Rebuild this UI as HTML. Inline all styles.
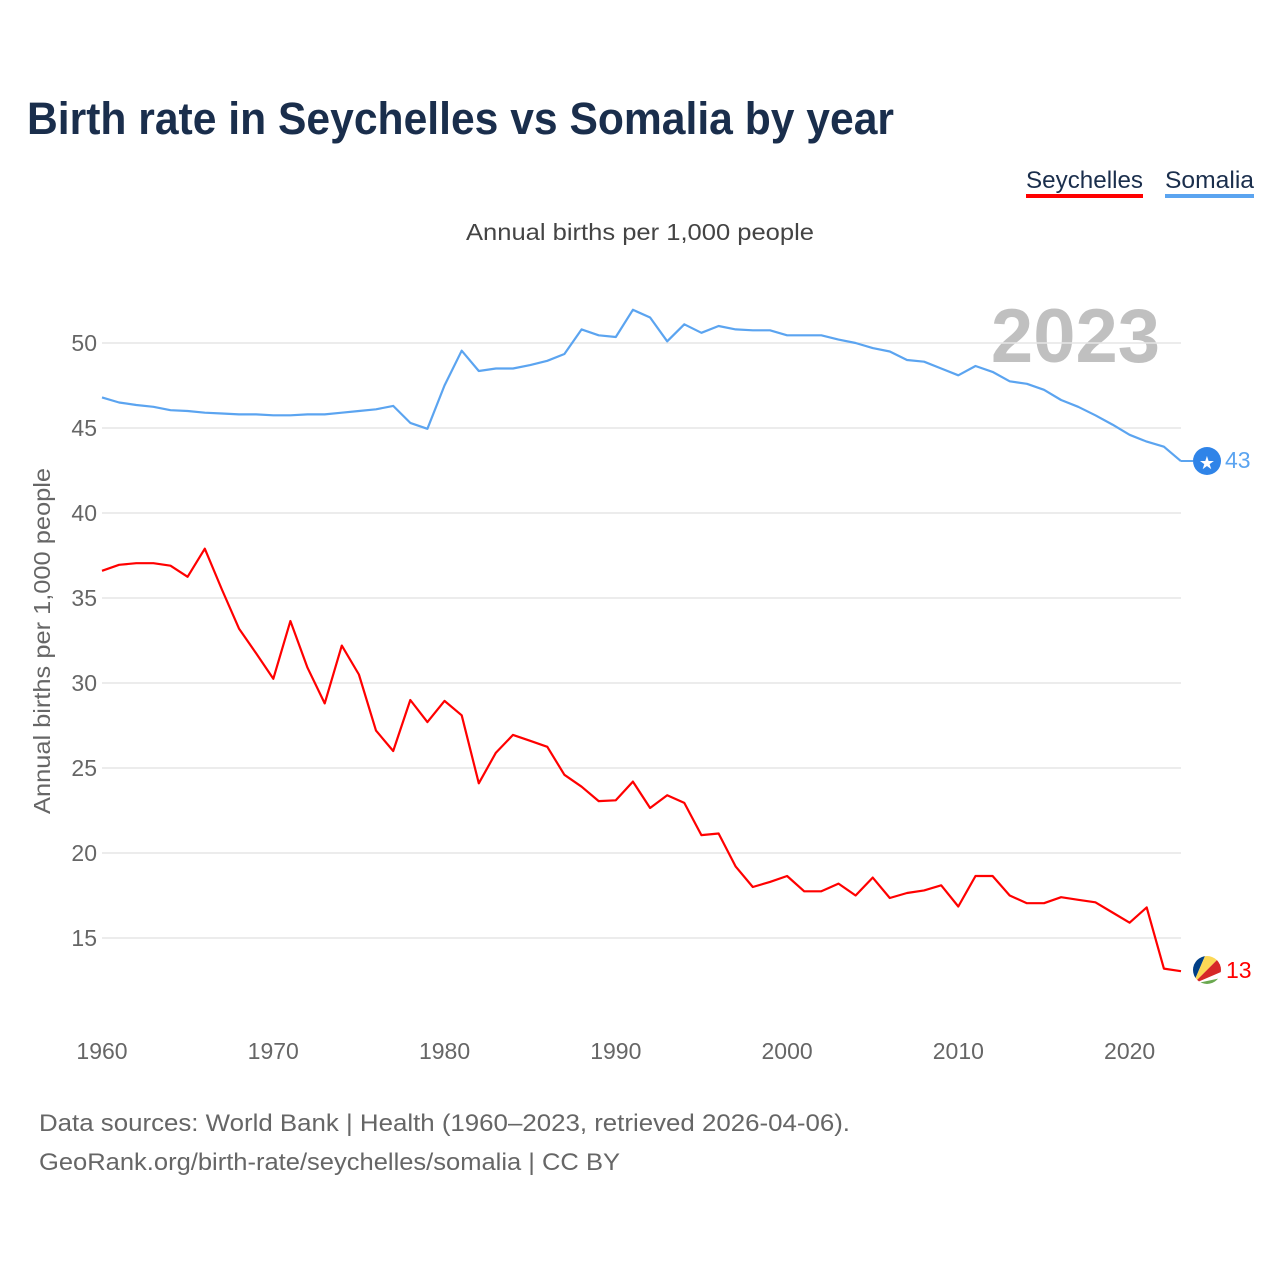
<!DOCTYPE html>
<html><head><meta charset="utf-8">
<style>
body{margin:0;background:#fff;font-family:"Liberation Sans",sans-serif;}
svg text{font-family:"Liberation Sans",sans-serif;}
</style></head>
<body>
<svg id="chart" width="1280" height="1280" xmlns="http://www.w3.org/2000/svg">
<rect width="1280" height="1280" fill="#fff"/>
<text x="27" y="134" font-size="45" font-weight="bold" fill="#1a2e4c" textLength="867" lengthAdjust="spacingAndGlyphs">Birth rate in Seychelles vs Somalia by year</text>
<g>
<text x="1026" y="188" font-size="24" fill="#1a2e4c" textLength="117" lengthAdjust="spacingAndGlyphs">Seychelles</text>
<rect x="1026" y="194" width="117" height="4" fill="#ff0000"/></g>
<g>
<text x="1165" y="188" font-size="24" fill="#1a2e4c" textLength="89" lengthAdjust="spacingAndGlyphs">Somalia</text>
<rect x="1165" y="194" width="89" height="4" fill="#5ba4f0"/></g>
<text x="466" y="240" font-size="23" fill="#444" textLength="348" lengthAdjust="spacingAndGlyphs">Annual births per 1,000 people</text>
<text x="1160" y="362" font-size="76" font-weight="bold" fill="#c0c0c0" text-anchor="end">2023</text>
<g id="grid"></g>
<g id="xaxis"></g>
<text transform="translate(50,641) rotate(-90)" font-size="23" fill="#666" text-anchor="middle" textLength="346" lengthAdjust="spacingAndGlyphs">Annual births per 1,000 people</text>
<g id="lines"></g>
<g>
<line x1="1181" y1="461" x2="1193" y2="461" stroke="#5ba4f0" stroke-width="2"/>
<circle cx="1207" cy="461" r="14" fill="#2f84e8"/>
<text x="1207" y="469" font-size="18" fill="#fff" text-anchor="middle">★</text>
<text x="1225" y="468" font-size="23" fill="#5ba4f0">43</text></g>
<g>
<clipPath id="fc"><circle cx="1207" cy="970" r="14"/></clipPath>
<g clip-path="url(#fc)">
<rect x="1190" y="953" width="34" height="34" fill="#fff"/>
<polygon points="1193,984 1193,956 1205,956" fill="#003f87"/>
<polygon points="1193,984 1205,956 1221,956" fill="#fcd856"/>
<polygon points="1193,984 1221,956 1221,972" fill="#d62828"/>
<polygon points="1193,984 1221,978 1221,987 1193,987" fill="#6aa84f"/>
</g>
<text x="1226" y="978" font-size="23" fill="#ff0000">13</text></g>
<text x="39" y="1131" font-size="24" fill="#666" textLength="811" lengthAdjust="spacingAndGlyphs">Data sources: World Bank | Health (1960–2023, retrieved 2026-04-06).</text>
<text x="39" y="1170" font-size="24" fill="#666" textLength="581" lengthAdjust="spacingAndGlyphs">GeoRank.org/birth-rate/seychelles/somalia | CC BY</text>
</svg>
<script>
const years = Array.from({length:64},(_, i)=>1960+i);
const somalia = [46.8,46.5,46.35,46.25,46.05,46.0,45.9,45.85,45.8,45.8,45.75,45.75,45.8,45.8,45.9,46.0,46.1,46.3,45.3,44.95,47.5,49.55,48.35,48.5,48.5,48.7,48.95,49.35,50.8,50.45,50.35,51.95,51.5,50.1,51.1,50.6,51.0,50.8,50.75,50.75,50.45,50.45,50.45,50.2,50.0,49.7,49.5,49.0,48.9,48.5,48.1,48.65,48.3,47.75,47.6,47.25,46.65,46.25,45.75,45.2,44.6,44.2,43.9,43.05];
const seychelles = [36.6,36.95,37.05,37.05,36.9,36.25,37.9,35.5,33.2,31.75,30.25,33.65,30.9,28.8,32.2,30.5,27.2,26.0,29.0,27.7,28.95,28.1,24.1,25.9,26.95,26.6,26.25,24.6,23.9,23.05,23.1,24.2,22.65,23.4,22.95,21.05,21.15,19.2,18.0,18.3,18.65,17.75,17.75,18.2,17.5,18.55,17.35,17.65,17.8,18.1,16.85,18.65,18.65,17.5,17.05,17.05,17.4,17.25,17.1,16.5,15.9,16.8,13.2,13.05];
const yTicks = [15,20,25,30,35,40,45,50];
const xTicks = [1960,1970,1980,1990,2000,2010,2020];
const NS="http://www.w3.org/2000/svg";
const X = y => 102 + (y-1960)*(1079/63);
const Y = v => 343 + (50-v)*17;
const grid=document.getElementById('grid');
yTicks.forEach(t=>{
  const l=document.createElementNS(NS,'line');
  
  
  l.setAttribute('x1',102);l.setAttribute('x2',1181);l.setAttribute('y1',Y(t));l.setAttribute('y2',Y(t));
  l.setAttribute('stroke','#e6e6e6');l.setAttribute('stroke-width','1.5');
  grid.appendChild(l);
  const tx=document.createElementNS(NS,'text');
  
  
  tx.setAttribute('x',97);tx.setAttribute('y',Y(t)+8);tx.setAttribute('text-anchor','end');
  tx.setAttribute('font-size','23');tx.setAttribute('fill','#666');tx.textContent=t;
  grid.appendChild(tx);
});
const xa=document.getElementById('xaxis');
xTicks.forEach(t=>{
  const tx=document.createElementNS(NS,'text');
  
  
  tx.setAttribute('x',X(t));tx.setAttribute('y',1059);tx.setAttribute('text-anchor','middle');
  tx.setAttribute('font-size','23');tx.setAttribute('fill','#666');tx.textContent=t;
  xa.appendChild(tx);
});
const lines=document.getElementById('lines');
function draw(data,color,name){
  const p=document.createElementNS(NS,'path');
  
  
  p.setAttribute('d',data.map((v,i)=>(i?'L':'M')+X(years[i]).toFixed(1)+','+Y(v).toFixed(1)).join(''));
  p.setAttribute('fill','none');p.setAttribute('stroke',color);p.setAttribute('stroke-width','2.2');
  p.setAttribute('stroke-linejoin','round');
  lines.appendChild(p);
}
draw(somalia,'#5ba4f0','somalia-line');
draw(seychelles,'#ff0000','seychelles-line');
</script>
</body></html>
